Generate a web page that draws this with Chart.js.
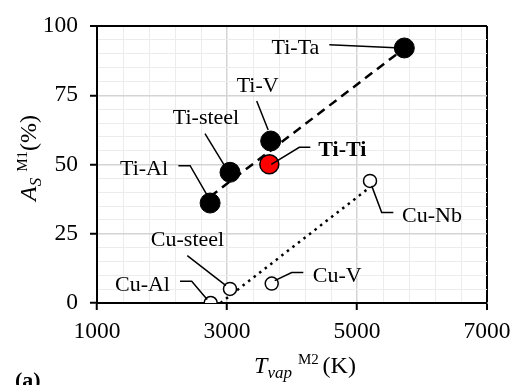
<!DOCTYPE html>
<html>
<head>
<meta charset="utf-8">
<script src="https://cdn.jsdelivr.net/npm/chart.js@4.4.0/dist/chart.umd.min.js"></script>
<style>
    body { margin: 0; background: #fff; }
    #wrap { width: 524px; height: 385px; position: relative; }
</style>
</head>
<body>
<div id="wrap"><canvas id="chart"></canvas></div>
<script>
// values
const tiNames = ['Ti-Al', 'Ti-steel', 'Ti-V', 'Ti-Ta'];
const tiTvap = [2740, 3046, 3672, 5728];
const tiAs = [36.1, 47.2, 58.5, 92.1];

const tiTiNames = ['Ti-Ti'];
const tiTiTvap = [3651];
const tiTiAs = [50.1];

const cuNames = ['Cu-Al', 'Cu-steel', 'Cu-V', 'Cu-Nb'];
const cuTvap = [2749, 3046, 3688, 5200];
const cuAs = [0, 5.1, 7, 44.1];

// trend line end points
const tiTrendX = [2740, 5730];
const tiTrendY = [38.4, 92];
const cuTrendX = [2900, 5200];
const cuTrendY = [0, 41.8];

const xTicks = [1000, 3000, 5000, 7000];
const yTicks = [0, 25, 50, 75, 100];

const SERIF = '"Liberation Serif", "Times New Roman", serif';

function pts(xs, ys) {
    return xs.map((x, i) => ({ x: x, y: ys[i] }));
}

// label placement, pixel offsets from the marker centre
const labelStyle = {
    'Ti-Ta':    { dx: -85, dy: 6,   align: 'right',  path: [[-75, -3.3], [-9, -0.3]] },
    'Ti-V':     { dx: -13, dy: -49, align: 'center', path: [[-14, -40], [-2.5, -11]] },
    'Ti-steel': { dx: -24, dy: -48, align: 'center', path: [[-25, -38.7], [-5, -6]] },
    'Ti-Al':    { dx: -42, dy: -28, align: 'right',  path: [[-31.7, -37.3], [-20, -37.3], [-3.3, -8.3]] },
    'Ti-Ti':    { dx: 49,  dy: -8,  align: 'left',   path: [[41, -17], [30, -17], [2, 0]], bold: true },
    'Cu-steel': { dx: -42.5, dy: -42.6, align: 'center', path: [[-42.7, -33.3], [-4, -3.3]] },
    'Cu-Al':    { dx: -40.7, dy: -12, align: 'right', path: [[-30.7, -21.7], [-19, -21.7], [-3.5, -3.5]] },
    'Cu-V':     { dx: 41,  dy: -2,  align: 'left',   path: [[31.6, -11], [20, -11], [3, -3]] },
    'Cu-Nb':    { dx: 32,  dy: 41,  align: 'left',   path: [[1.7, 5], [11.7, 31.7], [23.3, 31.7]] }
};

function richText(ctx, parts, cx, baseY) {
    let total = 0;
    for (const p of parts) {
        ctx.font = p.f;
        total += ctx.measureText(p.t).width;
    }
    let x = cx - total / 2;
    ctx.textAlign = 'left';
    ctx.textBaseline = 'alphabetic';
    for (const p of parts) {
        ctx.font = p.f;
        ctx.fillText(p.t, x, baseY + (p.dy || 0));
        x += ctx.measureText(p.t).width;
    }
}

const annotatePlugin = {
    id: 'annotate',
    afterDatasetsDraw(chart) {
        const ctx = chart.ctx;
        const xs = chart.scales.x, ys = chart.scales.y;
        const groups = [[tiNames, tiTvap, tiAs], [tiTiNames, tiTiTvap, tiTiAs], [cuNames, cuTvap, cuAs]];
        ctx.save();
        ctx.fillStyle = '#000';
        ctx.strokeStyle = '#000';
        ctx.lineWidth = 1.5;
        for (const [names, tx, ay] of groups) {
            names.forEach((name, i) => {
                const s = labelStyle[name];
                const px = xs.getPixelForValue(tx[i]);
                const py = ys.getPixelForValue(ay[i]);
                ctx.beginPath();
                s.path.forEach((p, j) => {
                    if (j === 0) ctx.moveTo(px + p[0], py + p[1]);
                    else ctx.lineTo(px + p[0], py + p[1]);
                });
                ctx.stroke();
                ctx.font = (s.bold ? 'bold ' : '') + '22px ' + SERIF;
                ctx.textAlign = s.align;
                ctx.textBaseline = 'alphabetic';
                ctx.fillText(name, px + s.dx, py + s.dy);
            });
        }
        ctx.restore();
    },
    afterDraw(chart) {
        const ctx = chart.ctx;
        ctx.save();
        ctx.fillStyle = '#000';
        // x title
        richText(ctx, [
            { t: 'T', f: 'italic 24px ' + SERIF },
            { t: 'vap', f: 'italic 17px ' + SERIF, dy: 5 },
            { t: ' ', f: '24px ' + SERIF },
            { t: 'M2 ', f: '15px ' + SERIF, dy: -9 },
            { t: '(K)', f: '24px ' + SERIF }
        ], 305, 373);
        // y title
        ctx.save();
        ctx.translate(36, 158);
        ctx.rotate(-Math.PI / 2);
        richText(ctx, [
            { t: 'A', f: 'italic 24px ' + SERIF },
            { t: 'S', f: 'italic 17px ' + SERIF, dy: 5 },
            { t: ' ', f: '24px ' + SERIF },
            { t: 'M1', f: '15px ' + SERIF, dy: -9 },
            { t: '(%)', f: '24px ' + SERIF }
        ], 0, 0);
        ctx.restore();
        ctx.font = 'bold 22px ' + SERIF;
        ctx.textAlign = 'left';
        ctx.fillText('(a)', 15, 387);
        ctx.restore();
    }
};

const isMajorX = v => xTicks.includes(v);
const isMajorY = v => yTicks.includes(v);

const config = {
    type: 'scatter',
    data: {
        datasets: [
            {
                label: 'Ti',
                data: pts(tiTvap, tiAs),
                backgroundColor: '#000',
                borderColor: '#000',
                pointRadius: 10,
                order: 0
            },
            {
                label: 'Ti-Ti',
                data: pts(tiTiTvap, tiTiAs),
                backgroundColor: '#ff0000',
                borderColor: '#000',
                borderWidth: 1.5,
                pointRadius: 9.5,
                order: 0
            },
            {
                label: 'Cu',
                data: pts(cuTvap, cuAs),
                backgroundColor: '#fff',
                borderColor: '#000',
                borderWidth: 1.5,
                pointRadius: 6.5,
                order: 0
            },
            {
                label: 'Ti trend',
                data: pts(tiTrendX, tiTrendY),
                showLine: true,
                borderColor: '#000',
                borderWidth: 2.5,
                borderDash: [9, 6],
                pointRadius: 0,
                order: 2
            },
            {
                label: 'Cu trend',
                data: pts(cuTrendX, cuTrendY),
                showLine: true,
                borderColor: '#000',
                borderWidth: 2.5,
                borderDash: [2.5, 4.5],
                pointRadius: 0,
                order: 2
            }
        ]
    },
    options: {
        responsive: true,
        maintainAspectRatio: false,
        animation: false,
        layout: { padding: { left: 0, top: 13, right: 37, bottom: 0 } },
        plugins: {
            legend: { display: false },
            tooltip: { enabled: false }
        },
        scales: {
            x: {
                type: 'linear',
                min: 1000,
                max: 7000,
                afterFit: scale => { scale.height = 82; },
                border: { display: true, color: '#000', width: 2 },
                grid: {
                    color: c => c.tick.value === 7000 ? '#000' : (isMajorX(c.tick.value) ? '#d4d4d4' : '#ececec'),
                    lineWidth: c => c.tick.value === 7000 ? 2 : (isMajorX(c.tick.value) ? 1.5 : 1),
                    tickColor: c => isMajorX(c.tick.value) ? '#000' : 'rgba(0,0,0,0)',
                    tickWidth: 2,
                    tickLength: 7
                },
                ticks: {
                    stepSize: 400,
                    autoSkip: false,
                    maxRotation: 0,
                    padding: 8,
                    color: '#000',
                    font: { family: SERIF, size: 23.5 },
                    callback: v => isMajorX(v) ? String(v) : ''
                }
            },
            y: {
                min: 0,
                max: 100,
                afterFit: scale => { scale.width = 97; },
                border: { display: true, color: '#000', width: 2 },
                grid: {
                    color: c => c.tick.value === 100 ? '#000' : (isMajorY(c.tick.value) ? '#d4d4d4' : '#ececec'),
                    lineWidth: c => c.tick.value === 100 ? 2 : (isMajorY(c.tick.value) ? 1.5 : 1),
                    tickColor: c => isMajorY(c.tick.value) ? '#000' : 'rgba(0,0,0,0)',
                    tickWidth: 2,
                    tickLength: 7
                },
                ticks: {
                    stepSize: 5,
                    autoSkip: false,
                    padding: 12,
                    color: '#000',
                    font: { family: SERIF, size: 23.5 },
                    callback: v => isMajorY(v) ? String(v) : ''
                }
            }
        }
    },
    plugins: [annotatePlugin]
};

new Chart(document.getElementById('chart'), config);
</script>
</body>
</html>
